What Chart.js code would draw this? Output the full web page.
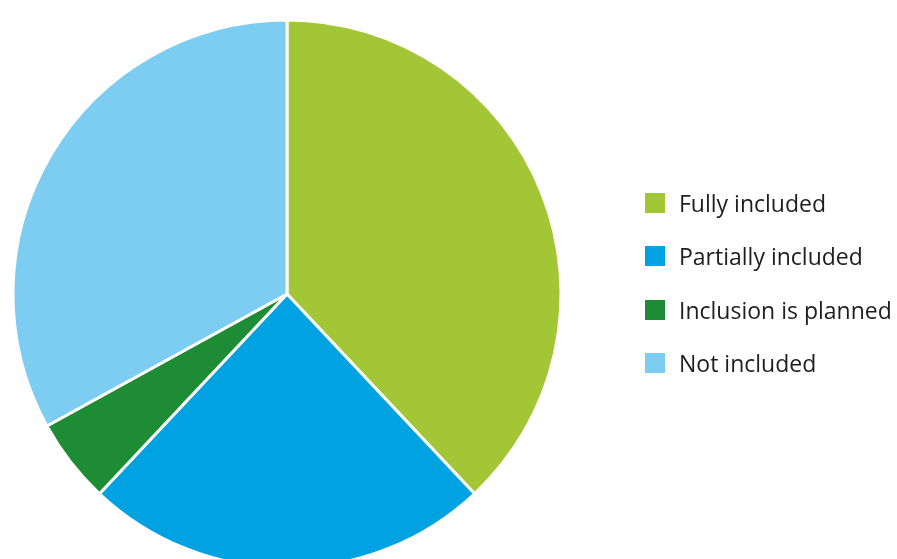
<!DOCTYPE html>
<html>
<head>
<meta charset="utf-8">
<script src="https://cdn.jsdelivr.net/npm/chart.js@4/dist/chart.umd.min.js"></script>
<style>
  html, body { margin: 0; padding: 0; background: #fff; overflow: hidden; }
  #wrap { position: relative; width: 897px; height: 559px; overflow: hidden; }
  #pie { position: absolute; left: 0; top: 0; }
  #legend { position: absolute; left: 645px; top: 193px; margin: 0; padding: 0; list-style: none;
            font-family: "Open Sans", "Noto Sans", sans-serif; font-size: 23px; font-weight: 500; color: #1e1e1e; }
  #legend li { height: 53.3px; position: relative; }
  #legend .box { position: absolute; left: 0; top: 0; width: 20px; height: 20px; }
  #legend .txt { position: absolute; left: 34px; top: -5px; line-height: 30px; white-space: nowrap; }
</style>
</head>
<body>
<div id="wrap">
  <canvas id="pie"></canvas>
  <ul id="legend"></ul>
</div>
<script>
// Anteile in Prozent, im Uhrzeigersinn ab 12 Uhr
var categories = ["Fully included", "Partially included", "Inclusion is planned", "Not included"];
var shares = [38, 24, 5, 33];
var colors = ["#a3c637", "#00a2e1", "#1e8b35", "#7dccf2"];

(function () {
  var cv = document.getElementById("pie");
  // canvas taller than the window: the pie runs off the bottom edge
  cv.width = 897;
  cv.height = 600;
  cv.style.width = "897px";
  cv.style.height = "600px";

  new Chart(cv, {
    type: "pie",
    data: {
      labels: categories,
      datasets: [{
        data: shares,
        backgroundColor: colors,
        borderColor: "#ffffff",
        borderWidth: 3
      }]
    },
    options: {
      responsive: false,
      animation: false,
      radius: 274,
      layout: { padding: { left: 13, right: 336, top: 20, bottom: 32 } },
      plugins: { legend: { display: false }, tooltip: { enabled: false } }
    }
  });

  var ul = document.getElementById("legend");
  ul.innerHTML = categories.map(function (c, i) {
    return '<li><span class="box" style="background:' + colors[i] + '"></span>' +
           '<span class="txt">' + c + '</span></li>';
  }).join("");
})();
</script>
</body>
</html>
